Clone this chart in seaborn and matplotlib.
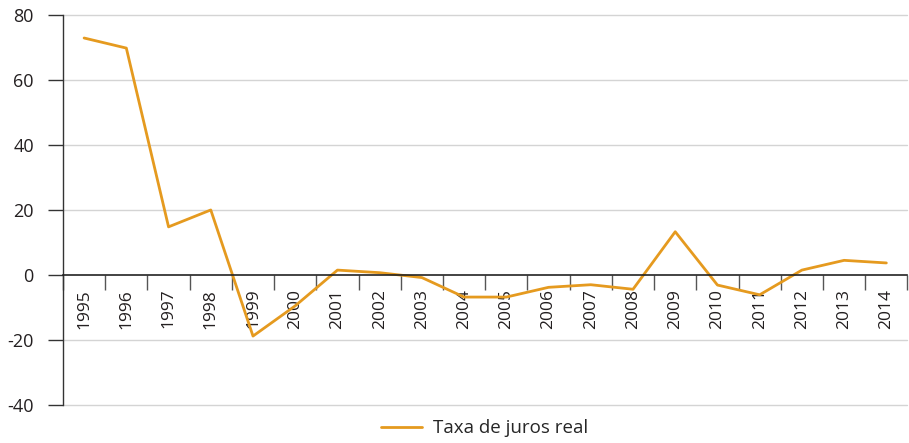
import numpy as np
import pandas as pd
import seaborn as sns
import matplotlib.pyplot as plt
from matplotlib.ticker import FixedLocator

# data
anos = [str(a) for a in range(1995, 2015)]
taxa = [72.9, 69.8, 14.8, 20.0, -18.8, -9.5, 1.5, 0.7, -0.8, -6.8,
        -6.8, -3.8, -3.0, -4.4, 13.3, -3.1, -6.1, 1.5, 4.5, 3.7]
serie = "Taxa de juros real"

df = pd.DataFrame({"ano": anos, "taxa": taxa})

sns.set_style("white")
plt.rcParams["font.family"] = ["Open Sans", "DejaVu Sans"]
plt.rcParams["axes.unicode_minus"] = False

fig = plt.figure(figsize=(9.09, 4.43), dpi=100)
ax = fig.add_axes([0.0693, 0.0858, 0.929, 0.8805])

sns.lineplot(data=df, x="ano", y="taxa", ax=ax, color="#E59A1F",
             linewidth=2, label=serie, legend=False, sort=False)

ax.set_xlim(-0.5, len(anos) - 0.5)
ax.set_ylim(-40, 80)
ax.set_yticks(range(-40, 81, 20))
ax.set_xlabel("")
ax.set_ylabel("")

# grid lines (light) except the zero line
for v in [-40, -20, 20, 40, 60, 80]:
    ax.axhline(v, color="#d4d4d4", lw=1, zorder=0, clip_on=False)

for s in ["top", "right"]:
    ax.spines[s].set_visible(False)
ax.spines["left"].set_color("#333333")
ax.spines["left"].set_linewidth(1)
ax.spines["bottom"].set_position(("data", 0))
ax.spines["bottom"].set_color("#222222")
ax.spines["bottom"].set_linewidth(1.2)

# labels at category centres, tick marks at category boundaries
ax.xaxis.set_minor_locator(FixedLocator(np.arange(-0.5, len(anos), 1.0)))
ax.tick_params(axis="x", which="major", bottom=True, length=0, pad=10,
               labelsize=12.5, labelrotation=90, labelcolor="#231f20")
ax.tick_params(axis="x", which="minor", bottom=True, length=11, width=1,
               color="#555555", direction="out")
for lbl in ax.get_xticklabels():
    lbl.set_va("top")
ax.tick_params(axis="y", which="major", left=True, length=11, width=1,
               color="#333333", pad=10, labelsize=13, labelcolor="#231f20")

fig.legend(loc="lower center", bbox_to_anchor=(0.533, -0.025), frameon=False,
           fontsize=13.5, handlelength=2.2, handletextpad=0.6)

fig.savefig("out.png", dpi=100)
